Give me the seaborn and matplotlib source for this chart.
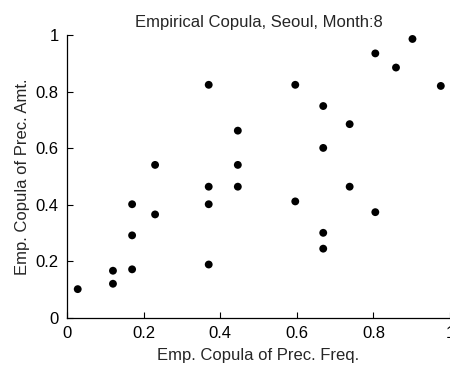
import matplotlib
matplotlib.use("Agg")
import matplotlib.pyplot as plt
import seaborn as sns
import pandas as pd

freq = [0.028, 0.12, 0.12, 0.17, 0.17, 0.17, 0.23, 0.23, 0.37, 0.37, 0.37, 0.37,
        0.446, 0.446, 0.446, 0.596, 0.596, 0.669, 0.669, 0.669, 0.669, 0.738, 0.738,
        0.805, 0.805, 0.859, 0.902, 0.976]
amt = [0.102, 0.167, 0.121, 0.402, 0.292, 0.172, 0.541, 0.366, 0.824, 0.464, 0.402, 0.189,
       0.662, 0.541, 0.464, 0.824, 0.412, 0.749, 0.601, 0.301, 0.245, 0.685, 0.464,
       0.935, 0.374, 0.885, 0.986, 0.82]
ticks = [0, 0.2, 0.4, 0.6, 0.8, 1]
tick_labels = ["0", "0.2", "0.4", "0.6", "0.8", "1"]

sns.set_theme(style="ticks")
plt.rcParams['font.family'] = ['Liberation Sans', 'DejaVu Sans']

df = pd.DataFrame({"freq": freq, "amt": amt})
fig = plt.figure(figsize=(4.5, 3.68), dpi=100)
ax = fig.add_axes([67/450, 1-318/368, 383/450, 283/368])
sns.scatterplot(data=df, x="freq", y="amt", ax=ax, color="black", s=32,
                edgecolor="none", linewidth=0)
ax.set_xlim(0, 1)
ax.set_ylim(0, 1)
ax.set_xticks(ticks)
ax.set_xticklabels(tick_labels)
ax.set_yticks(ticks)
ax.set_yticklabels(tick_labels)
ax.tick_params(direction="in", length=4, width=0.8, labelsize=12, colors="black", pad=6)
for s in ["top", "right"]:
    ax.spines[s].set_visible(False)
for s in ["left", "bottom"]:
    ax.spines[s].set_linewidth(0.9)
    ax.spines[s].set_color("black")
ax.set_xlabel("Emp. Copula of Prec. Freq.", fontsize=12, labelpad=5)
ax.set_ylabel("Emp. Copula of Prec. Amt.", fontsize=12, labelpad=4)
ax.set_title("Empirical Copula, Seoul, Month:8", fontsize=12, pad=6)
fig.savefig("out.png", dpi=100)
